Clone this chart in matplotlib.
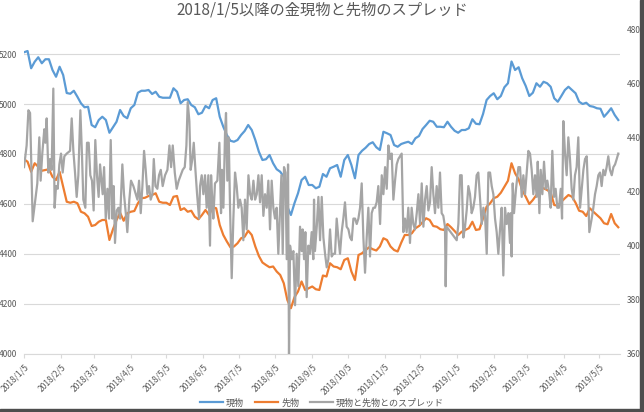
import numpy as np
import pandas as pd
import matplotlib
matplotlib.use("Agg")
import matplotlib.pyplot as plt
from matplotlib.patches import Rectangle

plt.rcParams['font.family'] = ['Noto Sans CJK JP', 'DejaVu Sans']

title = "2018/1/5以降の金現物と先物のスプレッド"
start = pd.Timestamp("2018-01-05")

# 現物・先物 (2018/1/5 から3日おきに読み取り)
spot = [5207, 5212, 5143, 5169, 5187, 5163, 5179, 5179, 5136, 5109, 5149, 5116, 5044,
        5041, 5053, 5029, 5003, 4987, 4989, 4916, 4907, 4936, 4949, 4936, 4885,
        4907, 4929, 4976, 4952, 4943, 4983, 4996, 5045, 5053, 5053, 5056, 5040, 5049,
        5029, 5025, 5025, 5025, 5063, 5049, 5003, 5016, 5019, 4996, 4987, 4959, 4965,
        4992, 4983,
        5016, 5023, 4949, 4909, 4876, 4853, 4849, 4856, 4876, 4892, 4916, 4896, 4856,
        4809, 4776, 4779, 4796, 4763, 4739, 4729, 4709, 4589, 4556, 4603, 4643,
        4696, 4709, 4676, 4676, 4663, 4669, 4720, 4709, 4743, 4749, 4756, 4709, 4776,
        4796, 4756, 4703, 4796, 4813, 4825, 4840, 4847, 4827, 4816, 4889, 4883, 4876,
        4836, 4829,
        4840, 4845, 4849, 4840, 4863, 4872, 4900, 4916, 4933, 4929, 4909, 4909, 4907,
        4929, 4909, 4893, 4885, 4896, 4896, 4903, 4939, 4921, 4919, 4960, 5016, 5032,
        5043, 5019, 5032, 5067, 5083,
        5170, 5136, 5147, 5103, 5072, 5032, 5045, 5083, 5069, 5089, 5083, 5069, 5023,
        5009, 5032, 5056, 5069, 5056, 5043, 5009, 5000, 5005, 4992, 4989, 4983, 4981,
        4949, 4965, 4983, 4956, 4936]

futures = [4779, 4769, 4729, 4763, 4749, 4733, 4736, 4739, 4709, 4696, 4729, 4669, 4609,
           4605, 4609, 4603, 4569, 4563, 4549, 4512, 4516, 4529, 4536, 4536, 4456,
           4499, 4536, 4565, 4533, 4563, 4569, 4572, 4603, 4623, 4625, 4632, 4636, 4643,
           4609, 4605, 4605, 4596, 4629, 4632, 4576, 4583, 4569, 4573, 4549, 4539, 4556,
           4576, 4556,
           4587, 4583, 4516, 4476, 4450, 4427, 4430, 4443, 4463, 4469, 4493, 4476, 4430,
           4392, 4366, 4356, 4347, 4350, 4330, 4316, 4283, 4216, 4183, 4227, 4250,
           4290, 4256, 4263, 4270, 4259, 4256, 4314, 4310, 4363, 4350, 4347, 4339, 4376,
           4383, 4330, 4296, 4396, 4403, 4416, 4427, 4419, 4414, 4430, 4463, 4456, 4430,
           4416, 4410,
           4445, 4476, 4476, 4483, 4503, 4512, 4527, 4543, 4536, 4512, 4509, 4499, 4496,
           4520, 4507, 4492, 4476, 4489, 4496, 4503, 4529, 4496, 4499, 4543, 4589, 4603,
           4623, 4629, 4645, 4669, 4693,
           4763, 4723, 4699, 4656, 4629, 4600, 4616, 4636, 4663, 4663, 4656, 4647, 4596,
           4593, 4609, 4623, 4636, 4629, 4605, 4573, 4569, 4552, 4583, 4569, 4556, 4543,
           4523, 4519, 4560, 4523, 4507]

# スプレッド (2018/1/5 からの経過日数, 値)
spread_day = [0, 2.2, 3.7, 5.1, 6.5, 7.3, 9.0, 11.2, 12.9, 14.0, 15.4, 17.1, 18.0, 19.1,
              20.5, 21.9, 23.3, 24.7, 25.8, 27.0, 28.4, 29.8, 31.2, 32.6, 34.0, 36.0,
              38.8, 40.2, 41.6, 43.0, 44.4, 45.8, 47.5, 48.9, 50.0, 51.7, 53.1, 54.5,
              55.9, 57.3, 58.7, 60.1, 61.5, 62.9,
              64.1, 66.3, 67.5, 68.9, 70.3, 71.7, 73.1, 74.5, 75.6, 76.7, 78.2, 79.6,
              81.0, 82.9, 84.3, 86.0, 87.1, 88.8, 90.2, 92.2, 94.2, 95.6, 97.0, 98.4,
              99.8, 101.2, 102.6, 104.0, 105.4, 106.8, 108.2, 109.4, 110.8, 112.4, 113.8,
              115.3, 116.9, 118.9, 120.9, 122.6, 124.0, 125.4, 127.1, 128.7, 130.4,
              132.1, 133.8, 135.5, 136.9, 138.0, 139.4, 140.5, 141.9, 143.1, 144.5,
              145.9, 147.6,
              148.4, 149.8, 151.2, 152.6, 154.0, 155.4, 156.8, 157.7, 158.8, 159.6,
              161.0, 163.0, 164.7, 166.1, 166.9, 168.1, 169.5, 170.3, 171.4, 172.6,
              173.7, 175.1, 176.5, 177.9, 179.3, 180.7, 182.1, 183.5, 184.9, 186.3,
              187.7, 189.2, 190.6, 192.0, 193.4, 194.8, 196.2, 197.6, 199.0, 200.4,
              201.8, 203.2, 204.6, 206.0, 207.4, 208.8, 210.2, 211.6, 213.0, 214.4,
              215.9, 217.0, 218.1, 219.2, 220.4, 221.5, 222.6, 223.4, 224.3, 225.7,
              227.1, 228.5, 229.9, 231.3,
              232.7, 234.1, 234.9, 236.1, 237.2, 238.3, 239.7, 241.1, 242.5, 243.9,
              244.5, 245.3, 246.8, 248.2, 249.6, 251.0, 252.4, 253.8, 255.2, 256.6,
              258.0, 259.4, 260.8, 262.2, 263.6, 265.0, 266.4, 267.8, 269.2, 270.6,
              272.0, 273.5, 274.9, 276.3, 277.7, 279.1, 280.5, 281.9, 283.3, 284.7,
              286.1, 287.5, 288.9, 290.3, 291.7, 293.1, 294.5, 295.9, 297.3, 298.7,
              300.2, 301.6, 303.0, 304.4, 305.8, 307.2, 308.6, 310.0, 311.4, 312.8,
              314.2, 315.6,
              317.0, 318.4, 319.8, 321.2, 322.6, 324.0, 325.4, 326.8, 328.2, 329.6,
              331.1, 332.5, 333.9, 335.3, 336.7, 338.1, 339.5, 340.9, 342.3, 343.7,
              345.1, 346.5, 347.9, 349.3, 350.7, 352.1, 353.5, 354.9, 355.5, 356.3,
              364.8, 366.2, 367.6, 369.0, 370.4, 371.8, 373.2, 374.6, 376.0, 377.4,
              378.8, 380.2, 381.6, 383.0, 384.5, 385.9, 387.3, 388.7, 390.1, 391.5,
              392.9, 394.3, 395.7, 397.1, 398.5, 399.9, 401.3, 402.7, 404.1,
              405.5, 406.9, 408.3, 409.7, 410.3, 411.1, 412.0, 413.1, 414.8, 416.8,
              418.2, 419.6, 421.0, 422.4, 423.8, 425.2, 426.6, 428.0, 429.4, 430.8,
              432.2, 433.1, 434.5, 435.6, 437.0, 438.4, 439.8, 441.2, 442.9, 444.0,
              445.4, 446.8, 448.2, 449.6, 451.0, 452.5, 453.6, 454.7, 456.1, 457.5,
              458.9, 460.3, 461.7, 463.1, 464.5, 465.9, 467.3, 468.8, 470.2, 471.6,
              473.0, 474.4, 475.8, 476.6, 478.6, 480.0, 481.4, 482.8, 484.2, 485.6,
              487.0, 488.4, 489.8, 491.2, 492.6, 494.0, 495.5, 496.9, 498.3, 499.7, 501.0]

spread = [429, 437, 450, 449, 424, 409, 415, 423, 440, 424, 434, 443, 438, 447,
          427, 432, 428, 458, 414, 422, 421, 430, 434, 427, 433, 434,
          435, 447, 435, 427, 418, 426, 450, 433, 417, 414, 438, 438,
          426, 424, 413, 439, 426, 418,
          430, 419, 429, 410, 421, 410, 439, 410, 422, 401, 413, 414,
          410, 430, 419, 411, 405, 417, 424, 422, 419, 417, 424, 412,
          422, 435, 428, 419, 422, 417, 419, 432, 422, 421, 426,
          428, 422, 426, 428, 437, 429, 437, 427, 421, 424,
          426, 428, 429, 437, 453, 446, 428, 432, 438, 428,
          419, 410,
          422, 426, 419, 426, 414, 426, 400, 426, 416, 410,
          423, 424, 438, 412, 428, 414, 442, 449, 424, 440,
          414, 388, 410, 427, 422, 414, 417, 414, 402, 417,
          406, 426, 419, 417, 424, 417, 419, 426, 416, 426,
          411, 419, 414, 424, 406, 424, 414, 410, 414, 397,
          414, 426, 397, 429, 427, 395, 430, 360, 400, 395,
          398, 378, 397, 385,
          407, 398, 406, 395, 405, 381, 400, 397, 405, 395,
          417, 398, 407, 418, 402, 418, 403, 397, 392, 395,
          406, 396, 397, 397, 410, 403, 397, 405, 410, 416,
          407, 406, 403, 402, 410, 410, 408, 410, 414, 423,
          403, 390, 403, 414, 396, 412, 414, 414, 416, 422,
          408, 426, 419, 429, 421, 437, 432, 434, 417, 424,
          430, 432,
          433, 434, 405, 410, 405, 414, 401, 414, 408, 406,
          412, 419, 408, 423, 407, 417, 422, 413, 416, 429,
          419, 412, 422, 414, 427, 412, 411, 407, 385, 407,
          402, 408, 426, 426, 403, 407, 413, 422, 419, 412,
          414, 418, 426, 427, 417, 408, 414, 411, 397, 427,
          427, 422, 419, 410, 405, 397, 406, 414, 389,
          414, 408, 412, 401, 412, 396, 423, 412, 421, 429,
          429, 418, 426, 419, 427, 435, 434, 428, 419, 426,
          418, 431, 412, 428, 419, 431, 421, 424, 419, 414,
          435, 418, 421, 414, 414, 421, 410, 446, 434, 426,
          440, 432, 421, 417, 426, 429, 440, 414, 421, 428,
          432, 433, 417, 405, 410, 414, 419, 422, 426, 427,
          422, 428, 426, 429, 433, 428, 426, 429, 430, 432, 434]

left_ticks = [4000, 4200, 4400, 4600, 4800, 5000, 5200]
right_ticks = [360, 380, 400, 420, 440, 460, 480]

grid_dates = start + pd.to_timedelta(np.arange(len(spot)) * 3, unit="D")
spread_dates = start + pd.to_timedelta(spread_day, unit="D")
tick_dates = pd.date_range("2018-01-01", "2019-05-01", freq="MS") + pd.Timedelta(days=4)
tick_labels = [f"{d.year}/{d.month}/{d.day}" for d in tick_dates]

text_col = "#595959"
grid_col = "#d9d9d9"

fig = plt.figure(figsize=(6.44, 4.12), dpi=100)
ax = fig.add_axes([0.0373, 0.1408, 0.9255, 0.7888])
l1, = ax.plot(grid_dates, spot, color="#5B9BD5", lw=1.6, label="現物")
l2, = ax.plot(grid_dates, futures, color="#ED7D31", lw=1.6, label="先物")
ax2 = ax.twinx()
l3, = ax2.plot(spread_dates, spread, color="#A5A5A5", lw=1.6, label="現物と先物とのスプレッド")

ax.set_ylim(4000, 5300)
ax.set_yticks(left_ticks)
ax2.set_ylim(360, 480)
ax2.set_yticks(right_ticks)
ax.set_xlim(start, start + pd.Timedelta(days=502.5))
ax.set_xticks(tick_dates)
ax.set_xticklabels(tick_labels, rotation=45, ha="right", rotation_mode="anchor")

ax.grid(axis="y", color=grid_col, lw=0.8)
ax.set_axisbelow(True)
for s in ["top", "left", "right"]:
    ax.spines[s].set_visible(False)
ax.spines["bottom"].set_color(grid_col)
for s in ax2.spines.values():
    s.set_visible(False)

ax.tick_params(axis="y", length=0, labelsize=6, labelcolor=text_col, pad=5)
ax2.tick_params(axis="y", length=0, labelsize=6, labelcolor=text_col, pad=5)
ax.tick_params(axis="x", length=3, color=grid_col, labelsize=6.1, labelcolor=text_col, pad=3)

fig.text(0.5, 0.975, title, ha="center", va="center", fontsize=11, color=text_col)

fig.legend([l1, l2, l3], [l1.get_label(), l2.get_label(), l3.get_label()],
           loc="center", bbox_to_anchor=(0.5, 0.022), ncol=3, frameon=False,
           fontsize=6.5, handlelength=2.6, handletextpad=0.3, columnspacing=1.2,
           labelcolor=text_col)

# スクリーンショットの影
fig.patches.append(Rectangle((640 / 644, 0), 4 / 644, 1, transform=fig.transFigure,
                             color="#4d4d4d", zorder=10))
fig.patches.append(Rectangle((0, 0), 1, 3 / 412, transform=fig.transFigure,
                             color="#4d4d4d", zorder=10))

fig.savefig("out.png", dpi=100)
